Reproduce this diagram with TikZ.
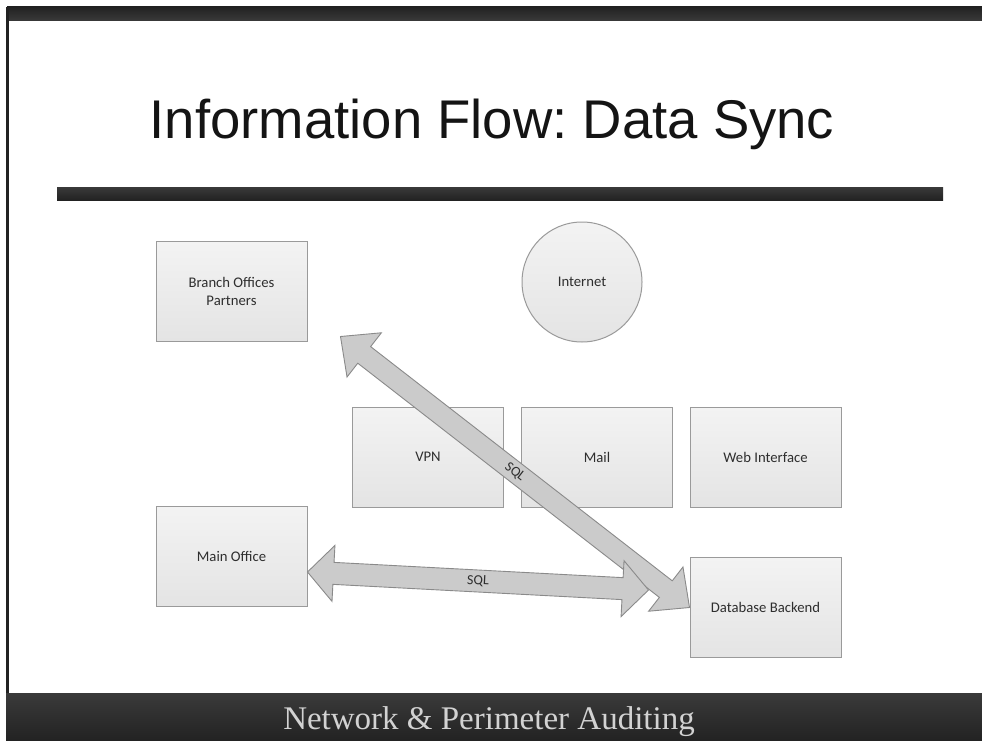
\documentclass[tikz,border=0pt]{standalone}
\usepackage{fontspec}
\setmainfont{Liberation Sans}
\newfontfamily\boxfont{Carlito}
\newfontfamily\footfont{Liberation Serif}
\usetikzlibrary{calc}
\frenchspacing

\definecolor{barDark}{HTML}{222222}
\definecolor{barMid}{HTML}{3a3a3a}
\definecolor{boxTop}{HTML}{F3F3F3}
\definecolor{boxBottom}{HTML}{E4E4E4}
\definecolor{boxEdge}{HTML}{9A9A9A}
\definecolor{boxText}{HTML}{2E2E2E}
\definecolor{pipeFill}{HTML}{CBCBCB}
\definecolor{pipeEdge}{HTML}{8A8A8A}
\definecolor{footText}{HTML}{D2D2D2}

% Block arrow with two heads between two named coordinates:
% #1 style, #2 start, #3 end, #4 head length, #5 head half width, #6 shaft half width
\newcommand\blockarrow[6]{%
  \coordinate (ba-s) at ($(#2)!#4!(#3)$);
  \coordinate (ba-e) at ($(#3)!#4!(#2)$);
  \filldraw[#1] (#2)
    -- ($(ba-s)!#5!90:(#3)$) -- ($(ba-s)!#6!90:(#3)$)
    -- ($(ba-e)!#6!-90:(#2)$) -- ($(ba-e)!#5!-90:(#2)$)
    -- (#3)
    -- ($(ba-e)!#5!90:(#2)$) -- ($(ba-e)!#6!90:(#2)$)
    -- ($(ba-s)!#6!-90:(#3)$) -- ($(ba-s)!#5!-90:(#3)$)
    -- cycle;}

\tikzset{
  box/.style={rectangle, draw=boxEdge, line width=1pt,
    top color=boxTop, bottom color=boxBottom,
    minimum width=151pt, minimum height=100pt, align=center,
    text=boxText, font=\boxfont\fontsize{14.7}{18}\selectfont},
  cloudnet/.style={box, circle, minimum width=120pt, minimum height=120pt},
  pipe/.style={fill=pipeFill, draw=pipeEdge, line width=0.9pt, line join=miter},
  pipelabel/.style={text=boxText, font=\boxfont\fontsize{14}{14}\selectfont, inner sep=0pt}
}

\begin{document}
\begin{tikzpicture}[x=1pt,y=-1pt]
\useasboundingbox (0,0) rectangle (982,741);
\fill[white] (0,0) rectangle (982,741);

% slide frame
\shade[top color=barDark, bottom color=barMid] (7,7) rectangle (982,21);
\fill[barDark] (6,7) rectangle (9,694);
\shade[top color=barMid, bottom color=barDark] (57,187) rectangle (943,200);
\shade[top color=barMid, bottom color=barDark] (6,693) rectangle (982,741);

% title and footer
\node[anchor=base, text=black!92, font=\fontsize{54.5}{54.5}\selectfont, inner sep=0pt]
  (title) at (492,139) {Information Flow: Data Sync};
\node[anchor=base, text=footText, font=\footfont\fontsize{33}{33}\selectfont, inner sep=0pt]
  (footer) at (489,729) {Network \& Perimeter Auditing};

% network components
\node[box] (branch) at (231.5,291) {Branch Offices\\Partners};
\node[cloudnet] (internet) at (582,282) {Internet};
\node[box] (vpn) at (428,457) {VPN};
\node[box] (mail) at (597,457) {Mail};
\node[box] (web) at (765.5,457) {Web Interface};
\node[box] (main) at (231.5,556) {Main Office};
\node[box] (db) at (765.5,607.5) {Database Backend};

% SQL synchronisation links
\coordinate (sqlA) at ($(branch.south east)+(33,-5)$);
\coordinate (sqlB) at (db.west);
\blockarrow{pipe}{sqlA}{sqlB}{30pt}{28pt}{10.5pt}
\path (sqlA) -- (sqlB) node[pipelabel, midway, sloped] {SQL};

\coordinate (sqlC) at ($(main.east)+(0,16)$);
\coordinate (sqlD) at ($(db.west)+(-41,-17.5)$);
\blockarrow{pipe}{sqlC}{sqlD}{26pt}{28pt}{11pt}
\path (sqlC) -- (sqlD) node[pipelabel, midway, sloped] {SQL};
\end{tikzpicture}
\end{document}
